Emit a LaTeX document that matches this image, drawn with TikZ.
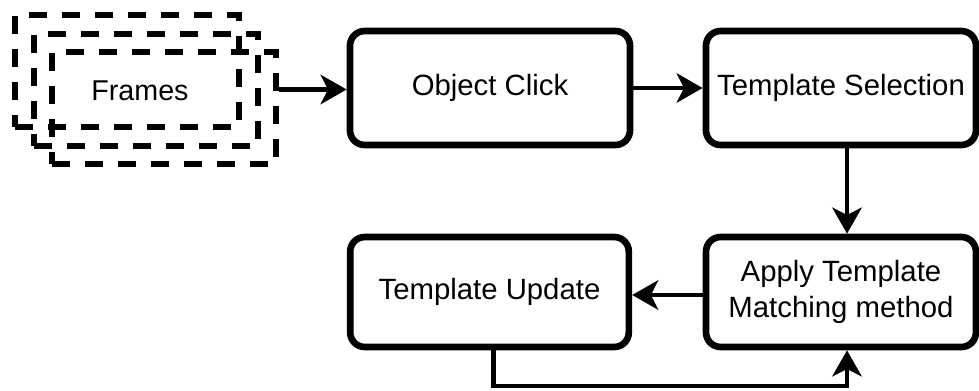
\documentclass[tikz,border=0pt]{standalone}
\usepackage{fontspec}
\setmainfont{Liberation Sans}
\usetikzlibrary{arrows.meta}
\begin{document}
\begin{tikzpicture}[x=0.75pt,y=-0.75pt,
  procbox/.style={draw=black, line width=5pt, rounded corners=11pt,
    minimum width=210pt, minimum height=85.5pt, inner sep=0pt, align=center,
    font=\fontsize{22}{27}\selectfont},
  framebox/.style={draw=black, line width=4.5pt,
    dash pattern=on 13.5pt off 11.25pt,
    minimum width=168pt, minimum height=84pt, inner sep=0pt},
  conn/.style={line width=3.3pt, -{Stealth[length=19.5pt,width=22pt,inset=5.5pt]}}]
\useasboundingbox (0,0) rectangle (979,390);

% stacked input frames
\node[framebox] (f1) at (127,71) {};
\node[framebox] (f2) at (145.5,89.5) {};
\node[framebox] (f3) at (164,108) {};
\node[font=\fontsize{21.5}{26}\selectfont] (ft) at (140,91) {Frames};

% processing steps
\node[procbox] (oc) at (490,88) {Object Click};
\node[procbox, minimum width=202.5pt] (ts) at (841,88) {Template Selection};
\node[procbox, minimum width=202.5pt, minimum height=82.5pt] (am) at (841,292)
  {Apply Template\\Matching method};
\node[procbox, minimum width=209pt, minimum height=82.5pt] (tu) at (489.5,292)
  {Template Update};

% connectors
\coordinate (tsout) at ([xshift=4.5pt]ts.south);
\coordinate (amin) at ([xshift=4.5pt]am.north);
\coordinate (amfb) at ([xshift=4.5pt]am.south);
\coordinate (tuout) at ([xshift=3pt]tu.south);
\coordinate (base) at (0,386);

\draw[conn] (f3.east |- f2) -- (oc.west |- f2);
\draw[conn] (oc) -- (ts);
\draw[conn] (tsout) -- (amin);
\draw[conn] ([yshift=-2.25pt]am.west) -- ([yshift=-2.25pt]tu.east);
\draw[conn] (tuout) -- (tuout |- base) -| (amfb);
\end{tikzpicture}
\end{document}
